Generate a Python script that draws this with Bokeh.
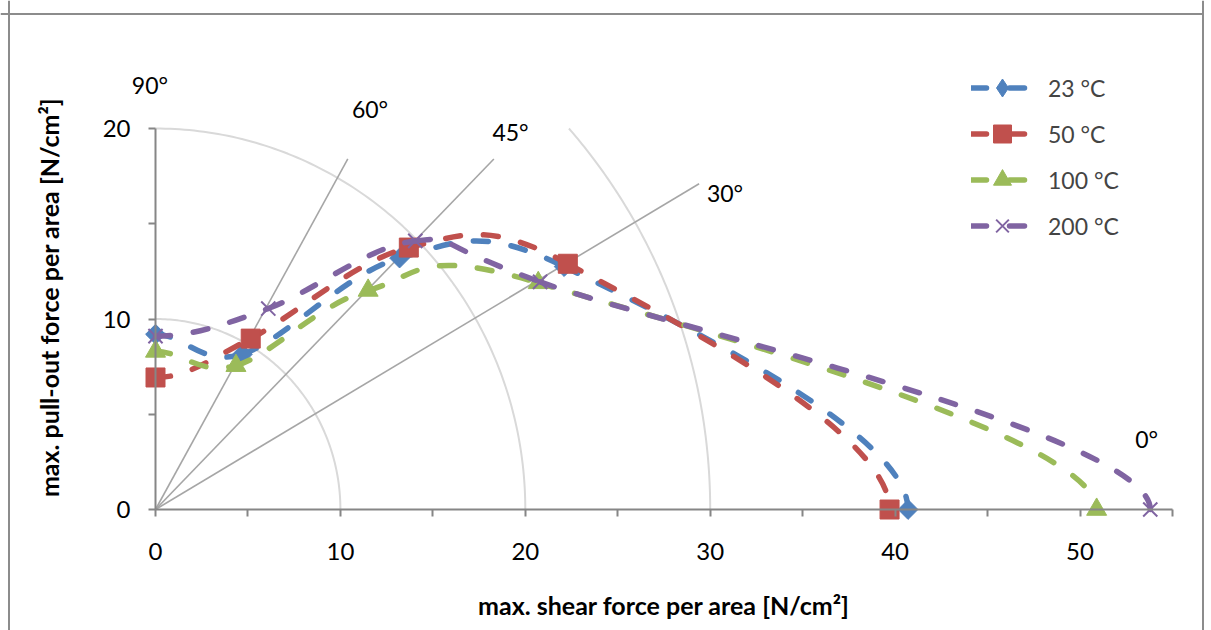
import math
from bokeh.plotting import figure
from bokeh.models import Range1d, FixedTicker, Label, Legend, LegendItem, Span
from bokeh.embed import file_html
from bokeh.resources import INLINE

# ---------------- data ----------------
series_names = ["23 °C", "50 °C", "100 °C", "200 °C"]
load_angles = [90, 60, 45, 30, 0]          # load angle of each measured point

x_23 = [0.0, 4.7, 13.2, 22.1, 40.7]
y_23 = [9.2, 8.15, 13.2, 12.75, 0.0]
x_50 = [0.0, 5.15, 13.7, 22.3, 39.7]
y_50 = [6.93, 8.97, 13.75, 12.9, 0.0]
x_100 = [0.0, 4.35, 11.5, 20.7, 50.9]
y_100 = [8.3, 7.55, 11.5, 11.9, 0.0]
x_200 = [0.0, 6.1, 14.05, 20.8, 53.8]
y_200 = [9.1, 10.55, 14.1, 11.95, 0.0]

# guide rays (end points) and guide circles
ray_end_x = [10.4, 18.3, 29.4]
ray_end_y = [18.4, 18.4, 17.1]
circle_radii = [10, 20, 30]
circle_cut_y = 20

angle_labels = ["90°", "60°", "45°", "30°", "0°"]

x_ticks = [0, 5, 10, 15, 20, 25, 30, 35, 40, 45, 50, 55]
y_ticks = [0, 5, 10, 15, 20]

# ---------------- styles ----------------
colors = ["#4F81BD", "#C0504D", "#9BBB59", "#8064A2"]
FONT = "Lato"
PX_X = 18.49   # px per unit
PX_Y = 19.05
X0_PAGE, Y0_PAGE = 155, 509   # canvas position of the origin
W, H = 1204, 630

p = figure(width=W, height=H, output_backend="svg", toolbar_location=None,
           x_range=Range1d(-X0_PAGE / PX_X, (W - X0_PAGE) / PX_X),
           y_range=Range1d(-(H - Y0_PAGE) / PX_Y, Y0_PAGE / PX_Y),
           min_border=0, min_border_left=0, min_border_right=0, min_border_top=0, min_border_bottom=0)
p.outline_line_color = None
p.grid.visible = False
p.background_fill_color = "white"
p.border_fill_color = "white"

# chart-area border (left, right, top)
for loc, dim in (((8.5 - X0_PAGE) / PX_X, "height"), ((1202.5 - X0_PAGE) / PX_X, "height"),
                 ((Y0_PAGE - 13.5) / PX_Y, "width")):
    p.add_layout(Span(location=loc, dimension=dim, line_color="#8c8c8c", line_width=2))

for ax, ticks, bounds in ((p.xaxis[0], x_ticks, (0, 55)), (p.yaxis[0], y_ticks, (0, 20))):
    ax.fixed_location = 0
    ax.bounds = bounds
    ax.ticker = FixedTicker(ticks=ticks)
    ax.major_label_overrides = {t: ("" if (t % 10 or t == 55) else str(t)) for t in ticks}
    ax.minor_tick_line_color = None
    ax.major_tick_in = 0
    ax.major_tick_out = 7
    ax.axis_line_color = "#868686"
    ax.axis_line_width = 2
    ax.major_tick_line_color = "#868686"
    ax.major_tick_line_width = 2
    ax.major_label_text_font = FONT
    ax.major_label_text_font_size = "24px"
    ax.major_label_text_color = "black"
p.xaxis.major_label_standoff = 26
p.yaxis.major_label_standoff = 18

# guide circles
cx, cy = [], []
for r in circle_radii:
    t_end = math.pi / 2 if r <= circle_cut_y else math.asin(circle_cut_y / r)
    ts = [t_end * k / 120 for k in range(121)]
    cx.append([r * math.cos(t) for t in ts])
    cy.append([r * math.sin(t) for t in ts])
p.multi_line(cx, cy, line_color="#D9D9D9", line_width=2)

# guide rays
p.segment(x0=[0] * len(ray_end_x), y0=[0] * len(ray_end_x), x1=ray_end_x, y1=ray_end_y,
          line_color="#A6A6A6", line_width=1.6)

# angle labels
lab_x = [-0.3, 11.6, 19.2, 30.8, 53.6]
lab_y = [22.3, 21.0, 19.8, 16.6, 3.7]
for t, lx, ly in zip(angle_labels, lab_x, lab_y):
    p.add_layout(Label(x=lx, y=ly, text=t, text_font=FONT, text_font_size="23px",
                       text_align="center", text_baseline="middle", text_color="black"))


def smooth(xs, ys):
    """Bezier control points (Excel-like smoothing, symmetric continuation at the ends)."""
    n = len(xs)
    out = {k: [] for k in ("x0", "y0", "x1", "y1", "cx0", "cy0", "cx1", "cy1")}
    for i in range(n - 1):
        p1 = (xs[i], ys[i])
        p2 = (xs[i + 1], ys[i + 1])
        p0 = (xs[i - 1], ys[i - 1]) if i > 0 else (-p2[0], p2[1])
        p3 = (xs[i + 2], ys[i + 2]) if i + 2 < n else (p1[0], -p1[1])
        out["x0"].append(p1[0]); out["y0"].append(p1[1])
        out["x1"].append(p2[0]); out["y1"].append(p2[1])
        out["cx0"].append(p1[0] + (p2[0] - p0[0]) / 6); out["cy0"].append(p1[1] + (p2[1] - p0[1]) / 6)
        out["cx1"].append(p2[0] - (p3[0] - p1[0]) / 6); out["cy1"].append(p2[1] - (p3[1] - p1[1]) / 6)
    return out


all_x = [x_23, x_50, x_100, x_200]
all_y = [y_23, y_50, y_100, y_200]
markers = [("square", 14, math.pi / 4, "diamond"), ("square", 19, 0, "square"),
           ("triangle", 20, 0, "triangle"), ("x", 20, 0, "x")]
DASH = "15 23"
LW = 5.5
items = []
for name, xs, ys, col, (mk, sz, ang, legmk) in zip(series_names, all_x, all_y, colors, markers):
    seg = smooth(xs, ys)
    p.bezier(line_color=col, line_width=LW, line_dash=DASH, line_cap="round", **seg)
    lw = 2 if mk == "x" else 1
    p.scatter(xs, ys, marker=mk, size=sz, angle=ang, fill_color=col, line_color=col, line_width=lw)
    # legend-only renderers (nothing drawn in the plot)
    lr = p.line([math.nan], [math.nan], line_color=col, line_width=LW, line_dash=DASH, line_cap="round")
    mr = p.scatter([math.nan], [math.nan], marker=legmk, fill_color=col, line_color=col, line_width=lw)
    items.append(LegendItem(label=name, renderers=[lr, mr]))

legend = Legend(items=items, location=(971, H - 248), padding=0, margin=0, spacing=1,
                glyph_width=62, glyph_height=45, label_standoff=15,
                label_text_font=FONT, label_text_font_size="23px",
                border_line_color=None, background_fill_alpha=0)
p.add_layout(legend)

# axis titles
p.add_layout(Label(x=27.5, y=-5.0, text="max. shear force per area [N/cm²]", text_font=FONT,
                   text_font_size="25px", text_font_style="bold", text_align="center",
                   text_baseline="middle", text_color="black"))
p.add_layout(Label(x=-5.75, y=11.13, text="max. pull-out force per area [N/cm²]", text_font=FONT,
                   text_font_size="25px", text_font_style="bold", text_align="center",
                   text_baseline="middle", angle=math.pi / 2, text_color="black"))

open("out.html", "w").write(file_html(p, INLINE))
